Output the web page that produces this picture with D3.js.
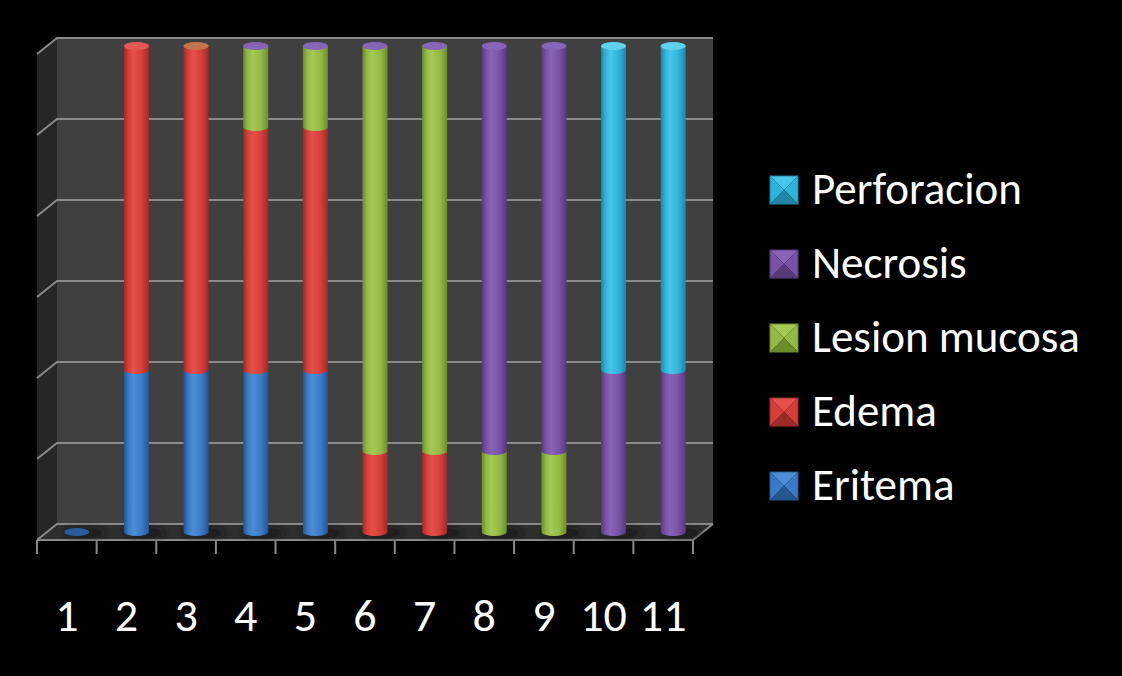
<!DOCTYPE html>
<html>
<head>
<meta charset="utf-8">
<script src="https://cdn.jsdelivr.net/npm/d3@7"></script>
<style>
  html, body { margin: 0; padding: 0; background: #000; }
  svg { display: block; }
  text { font-family: Carlito, Lato, "Open Sans", sans-serif; fill: #fff; }
</style>
</head>
<body>
<svg id="chart" width="1122" height="676"></svg>
<script>
// Categories (case numbers) and stacked series, bottom to top.
// null = no segment, 0 = zero-height segment (only its cap shows).
const categories = ["1", "2", "3", "4", "5", "6", "7", "8", "9", "10", "11"];
const seriesNames = ["Eritema", "Edema", "Lesion mucosa", "Necrosis", "Perforacion"];
const eritema     = [0,    2,    2,    2,    2,    null, null, null, null, null, null];
const edema       = [null, 4,    4,    3,    3,    1,    1,    null, null, null, null];
const lesion      = [null, null, 0,    1,    1,    5,    5,    1,    1,    null, null];
const necrosis    = [null, null, null, 0,    0,    0,    0,    5,    5,    2,    2];
const perforacion = [null, null, null, null, null, null, null, null, null, 4,    4];
const yTicks = [0, 1, 2, 3, 4, 5, 6];

const seriesValues = [eritema, edema, lesion, necrosis, perforacion];
const palette = {
  "Eritema":       { base: "#3a7ac6", light: "#4d8ed8", dark: "#24568f", cap: "#2a5c9c" },
  "Edema":         { base: "#d63e39", light: "#e4504a", dark: "#9c2b27", cap: "#e25a53" },
  "Lesion mucosa": { base: "#93ba44", light: "#a4c955", dark: "#6c8c2c", cap: "#8da83a" },
  "Necrosis":      { base: "#7852a6", light: "#8964b6", dark: "#553a7a", cap: "#8665b8" },
  "Perforacion":   { base: "#2fb3db", light: "#48c6ea", dark: "#1f86a6", cap: "#5fd2f0" }
};

const svg = d3.select("#chart");
const defs = svg.append("defs");

// 3D frame geometry: depth offset of the back wall relative to the front edge
const depthX = 20, depthY = -16;
const frontLeft = 37, frontRight = 693;

const x = d3.scaleBand().domain(categories).range([frontLeft, frontRight]).padding(0);
const y = d3.scaleLinear().domain([0, 6]).range([540, 54]);

const barW = 25, rx = barW / 2, ry = 4;

// Gradients for the cylinder bodies
seriesNames.forEach((name, i) => {
  const c = palette[name];
  const g = defs.append("linearGradient").attr("id", "cyl" + i)
    .attr("x1", "0%").attr("x2", "100%").attr("y1", "0%").attr("y2", "0%");
  g.append("stop").attr("offset", "0%").attr("stop-color", c.dark);
  g.append("stop").attr("offset", "18%").attr("stop-color", c.base);
  g.append("stop").attr("offset", "38%").attr("stop-color", c.light);
  g.append("stop").attr("offset", "72%").attr("stop-color", c.base);
  g.append("stop").attr("offset", "100%").attr("stop-color", c.dark);
});
defs.append("filter").attr("id", "soft")
  .attr("x", "-50%").attr("y", "-100%").attr("width", "200%").attr("height", "300%")
  .append("feGaussianBlur").attr("stdDeviation", 3);

// Walls and floor
const backTop = y(6) + depthY, backBottom = y(0) + depthY;
const frame = svg.append("g");
frame.append("polygon")
  .attr("points", [[frontLeft + depthX, backTop], [frontRight + depthX, backTop],
                   [frontRight + depthX, backBottom], [frontLeft + depthX, backBottom]].join(" "))
  .attr("fill", "#404040");
frame.append("polygon")
  .attr("points", [[frontLeft, y(6)], [frontLeft + depthX, backTop],
                   [frontLeft + depthX, backBottom], [frontLeft, y(0)]].join(" "))
  .attr("fill", "#262626");
frame.append("polygon")
  .attr("points", [[frontLeft, y(0)], [frontLeft + depthX, backBottom],
                   [frontRight + depthX, backBottom], [frontRight, y(0)]].join(" "))
  .attr("fill", "#2e2e2e");

// Gridlines on the back wall and left wall
const grid = svg.append("g").attr("stroke", "#8a8a8a").attr("stroke-width", 2).attr("fill", "none");
yTicks.forEach(t => {
  const yb = y(t) + depthY;
  grid.append("polyline")
    .attr("points", [[frontLeft, y(t)], [frontLeft + depthX, yb], [frontRight + depthX, yb]].join(" "));
});

// Front edge of the floor and category ticks
const axis = svg.append("g").attr("stroke", "#8a8a8a").attr("stroke-width", 2).attr("fill", "none");
axis.append("polyline")
  .attr("points", [[frontLeft, y(0)], [frontRight, y(0)], [frontRight + depthX, backBottom]].join(" "));
const tickXs = categories.map(c => x(c)).concat([frontRight]);
tickXs.forEach(tx => {
  axis.append("line").attr("x1", tx).attr("x2", tx).attr("y1", y(0)).attr("y2", y(0) + 14);
});

// Category labels
svg.append("g").selectAll("text").data(categories).join("text")
  .attr("x", d => x(d) + x.bandwidth() / 2)
  .attr("y", 631)
  .attr("text-anchor", "middle")
  .attr("font-size", 46)
  .text(d => d);

// Cylinders, drawn at mid depth
const midX = depthX / 2, midY = depthY / 2;
const yMid = v => y(v) + midY;

// floor shadows
svg.append("g").selectAll("ellipse").data(categories).join("ellipse")
  .attr("cx", d => x(d) + x.bandwidth() / 2 + midX + 8)
  .attr("cy", yMid(0) + 1)
  .attr("rx", rx + 8).attr("ry", ry + 1)
  .attr("fill", "#161616").attr("opacity", 0.8)
  .attr("filter", "url(#soft)");

const bars = svg.append("g");
categories.forEach((cat, ci) => {
  const cx = x(cat) + x.bandwidth() / 2 + midX;
  let base = 0, topSeries = -1, belowSeries = -1;
  seriesValues.forEach((vals, si) => {
    const v = vals[ci];
    if (v === null) return;
    if (v > 0) belowSeries = si;
    topSeries = si;
    if (v > 0) {
      const y0 = yMid(base), y1 = yMid(base + v);
      const path = `M${cx - rx},${y1} L${cx - rx},${y0} A${rx},${ry} 0 0 0 ${cx + rx},${y0} L${cx + rx},${y1} Z`;
      bars.append("path").attr("d", path).attr("fill", `url(#cyl${si})`);
    }
    base += v;
  });
  if (topSeries >= 0) {
    const capY = yMid(base);
    // a zero-height segment of the next series partly covers the cap below it
    const zeroTop = belowSeries >= 0 && belowSeries !== topSeries && topSeries - belowSeries === 1
      && seriesNames[topSeries] === "Lesion mucosa";
    if (zeroTop) {
      bars.append("ellipse").attr("cx", cx).attr("cy", capY).attr("rx", rx).attr("ry", ry)
        .attr("fill", palette[seriesNames[belowSeries]].cap);
      bars.append("ellipse").attr("cx", cx).attr("cy", capY).attr("rx", rx).attr("ry", ry)
        .attr("fill", palette[seriesNames[topSeries]].cap).attr("opacity", 0.35);
    } else {
      bars.append("ellipse")
        .attr("cx", cx).attr("cy", capY)
        .attr("rx", rx).attr("ry", ry)
        .attr("fill", palette[seriesNames[topSeries]].cap);
    }
  }
});

// Legend, top entry is the last series
const legend = svg.append("g");
const legendItems = seriesNames.slice().reverse();
legendItems.forEach((name, i) => {
  const c = palette[name];
  const lx = 770, ly = 176 + i * 74, s = 28;
  const g = legend.append("g");
  const cxm = lx + s / 2, cym = ly + s / 2;
  const tri = (pts, fill) => g.append("polygon").attr("points", pts.join(" ")).attr("fill", fill);
  tri([[lx, ly], [lx + s, ly], [cxm, cym]], c.light);
  tri([[lx + s, ly], [lx + s, ly + s], [cxm, cym]], c.base);
  tri([[lx, ly + s], [lx + s, ly + s], [cxm, cym]], c.dark);
  tri([[lx, ly], [lx, ly + s], [cxm, cym]], c.base);
  g.append("rect").attr("x", lx).attr("y", ly).attr("width", s).attr("height", s)
    .attr("fill", "none").attr("stroke", c.dark).attr("stroke-width", 1);
  legend.append("text")
    .attr("x", 812).attr("y", ly + s)
    .attr("font-size", 45)
    .text(name);
});
</script>
</body>
</html>
